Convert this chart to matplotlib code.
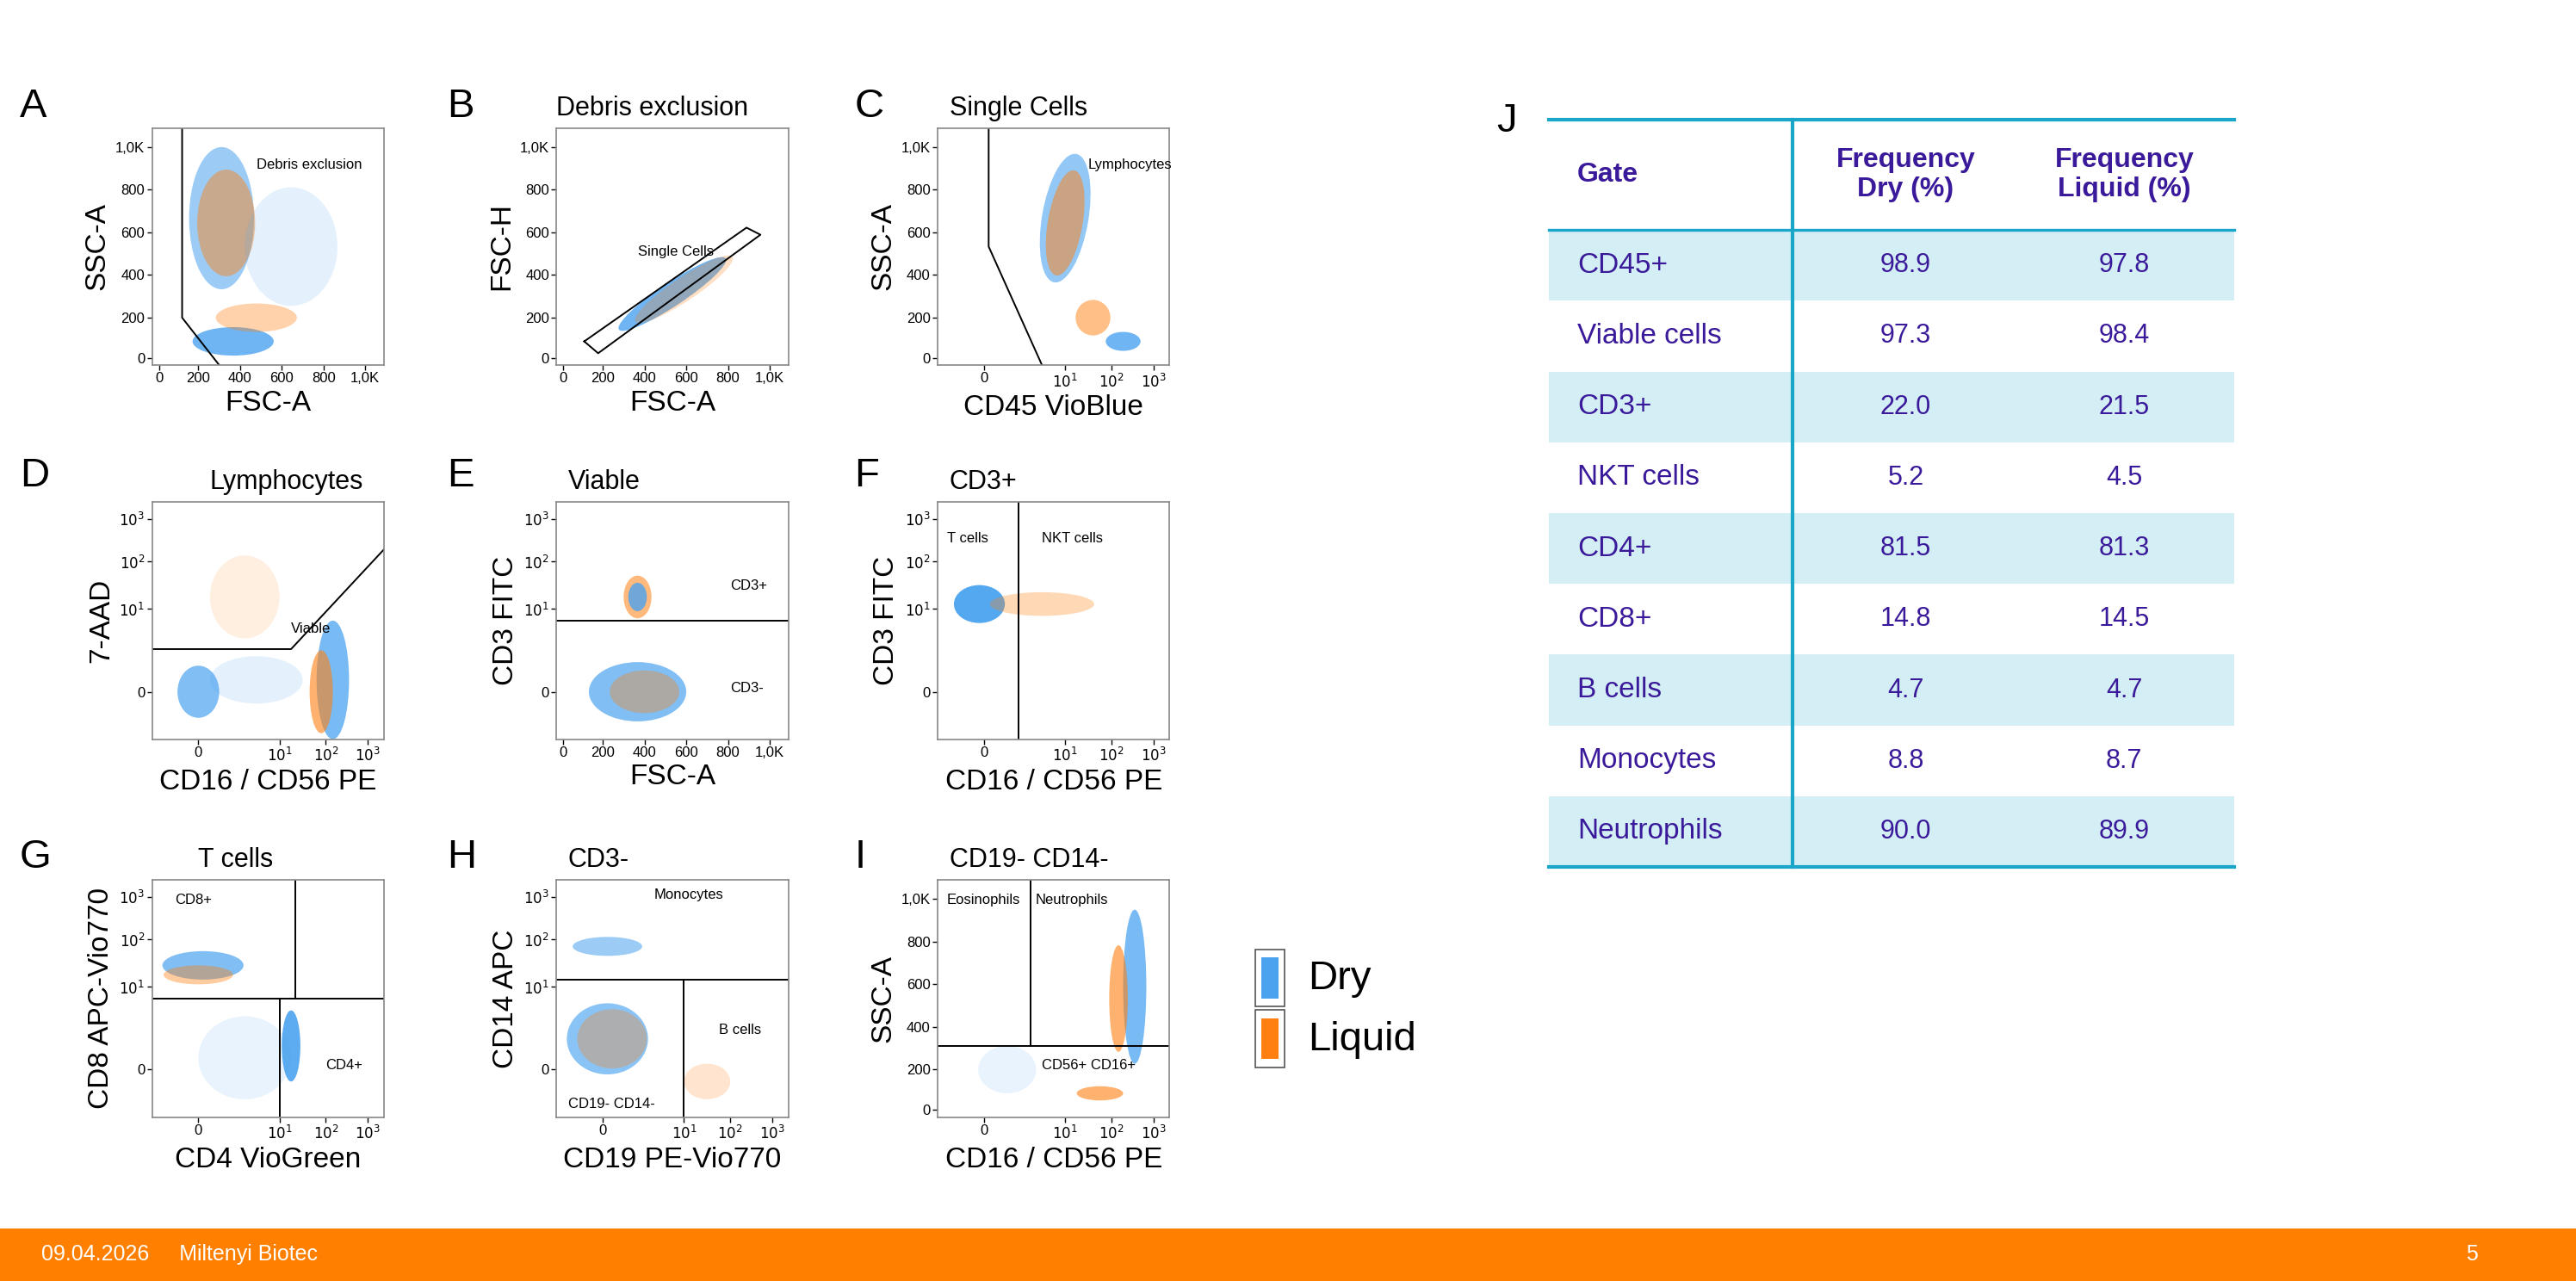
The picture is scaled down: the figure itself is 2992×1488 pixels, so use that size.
import matplotlib
matplotlib.use("Agg")
import matplotlib.pyplot as plt
from matplotlib.patches import Ellipse, Rectangle

plt.rcParams['font.family'] = ['Liberation Sans', 'DejaVu Sans']

DRY = '#4ba3f0'
LIQ = '#ff8010'
TXT = '#3a1a9a'

# table data
gates = ['CD45+', 'Viable cells', 'CD3+', 'NKT cells', 'CD4+', 'CD8+', 'B cells', 'Monocytes', 'Neutrophils']
freq_dry = ['98.9', '97.3', '22.0', '5.2', '81.5', '14.8', '4.7', '8.8', '90.0']
freq_liquid = ['97.8', '98.4', '21.5', '4.5', '81.3', '14.5', '4.7', '8.7', '89.9']

# axis types: 'lin' = 0..1K, 'log' = biexponential 0, 10^1..10^3 (coords 0..1)
lin_ticks = [0.03, 0.2, 0.38, 0.56, 0.74, 0.92]
lin_labels = ['0', '200', '400', '600', '800', '1,0K']
log_ticks = [0.2, 0.55, 0.75, 0.93]
log_labels = ['0', '$10^1$', '$10^2$', '$10^3$']

# panels: letter, title, xlabel, ylabel, xaxis, yaxis
panels = [
    ('A', '', 'FSC-A', 'SSC-A', 'lin', 'lin'),
    ('B', 'Debris exclusion', 'FSC-A', 'FSC-H', 'lin', 'lin'),
    ('C', 'Single Cells', 'CD45 VioBlue', 'SSC-A', 'log', 'lin'),
    ('D', 'Lymphocytes', 'CD16 / CD56 PE', '7-AAD', 'log', 'log'),
    ('E', 'Viable', 'FSC-A', 'CD3 FITC', 'lin', 'log'),
    ('F', 'CD3+', 'CD16 / CD56 PE', 'CD3 FITC', 'log', 'log'),
    ('G', 'T cells', 'CD4 VioGreen', 'CD8 APC-Vio770', 'log', 'log'),
    ('H', 'CD3-', 'CD19 PE-Vio770', 'CD14 APC', 'log', 'log'),
    ('I', 'CD19- CD14-', 'CD16 / CD56 PE', 'SSC-A', 'log', 'lin'),
]
title_x = [0.0, 0.0, 0.05, 0.25, 0.05, 0.05, 0.2, 0.05, 0.05]

# clusters per panel: (x, y, width, height, angle, color, alpha)
clusters = {
    'A': [(0.3, 0.62, 0.28, 0.6, 0, DRY, 0.55), (0.32, 0.6, 0.25, 0.45, 0, LIQ, 0.45),
          (0.35, 0.1, 0.35, 0.12, 0, DRY, 0.8), (0.45, 0.2, 0.35, 0.12, 0, LIQ, 0.35),
          (0.6, 0.5, 0.4, 0.5, 0, DRY, 0.15)],
    'B': [(0.5, 0.3, 0.55, 0.1, 33, DRY, 0.8), (0.55, 0.32, 0.5, 0.1, 33, LIQ, 0.25)],
    'C': [(0.55, 0.62, 0.2, 0.55, -10, DRY, 0.6), (0.55, 0.6, 0.15, 0.45, -10, LIQ, 0.5),
          (0.67, 0.2, 0.15, 0.15, 0, LIQ, 0.5), (0.8, 0.1, 0.15, 0.08, 0, DRY, 0.8)],
    'D': [(0.2, 0.2, 0.18, 0.22, 0, DRY, 0.7), (0.78, 0.25, 0.14, 0.5, 0, DRY, 0.75),
          (0.73, 0.2, 0.1, 0.35, 0, LIQ, 0.6), (0.45, 0.25, 0.4, 0.2, 0, DRY, 0.15),
          (0.4, 0.6, 0.3, 0.35, 0, LIQ, 0.12)],
    'E': [(0.35, 0.6, 0.12, 0.18, 0, LIQ, 0.55), (0.35, 0.6, 0.08, 0.12, 0, DRY, 0.8),
          (0.35, 0.2, 0.42, 0.25, 0, DRY, 0.7), (0.38, 0.2, 0.3, 0.18, 0, LIQ, 0.35)],
    'F': [(0.18, 0.57, 0.22, 0.16, 0, DRY, 0.95), (0.45, 0.57, 0.45, 0.1, 0, LIQ, 0.3)],
    'G': [(0.22, 0.64, 0.35, 0.12, 0, DRY, 0.7), (0.2, 0.6, 0.3, 0.08, 0, LIQ, 0.4),
          (0.6, 0.3, 0.08, 0.3, 0, DRY, 0.9), (0.4, 0.25, 0.4, 0.35, 0, DRY, 0.12)],
    'H': [(0.22, 0.72, 0.3, 0.08, 0, DRY, 0.55), (0.22, 0.33, 0.35, 0.3, 0, DRY, 0.65),
          (0.24, 0.33, 0.3, 0.25, 0, LIQ, 0.3), (0.65, 0.15, 0.2, 0.15, 0, LIQ, 0.2)],
    'I': [(0.85, 0.55, 0.1, 0.65, 0, DRY, 0.75), (0.78, 0.5, 0.08, 0.45, 0, LIQ, 0.6),
          (0.7, 0.1, 0.2, 0.06, 0, LIQ, 0.6), (0.3, 0.2, 0.25, 0.2, 0, DRY, 0.12)],
}

# gate lines per panel: list of (xs, ys)
gate_lines = {
    'A': [([0.13, 0.13, 0.29], [1.0, 0.2, 0.0])],
    'B': [([0.12, 0.82, 0.88, 0.18, 0.12], [0.1, 0.58, 0.55, 0.05, 0.1])],
    'C': [([0.22, 0.22, 0.45], [1.0, 0.5, 0.0])],
    'D': [([0.0, 0.6, 1.0], [0.38, 0.38, 0.8])],
    'E': [([0.0, 1.0], [0.5, 0.5])],
    'F': [([0.35, 0.35], [0.0, 1.0])],
    'G': [([0.55, 0.55], [0.0, 0.5]), ([0.0, 1.0], [0.5, 0.5]), ([0.62, 0.62], [0.5, 1.0])],
    'H': [([0.0, 1.0], [0.58, 0.58]), ([0.55, 0.55], [0.0, 0.58])],
    'I': [([0.0, 1.0], [0.3, 0.3]), ([0.4, 0.4], [0.3, 1.0])],
}
gate_texts = {
    'A': [(0.45, 0.83, 'Debris exclusion')],
    'B': [(0.35, 0.46, 'Single Cells')],
    'C': [(0.65, 0.83, 'Lymphocytes')],
    'D': [(0.6, 0.45, 'Viable')],
    'E': [(0.75, 0.63, 'CD3+'), (0.75, 0.2, 'CD3-')],
    'F': [(0.04, 0.83, 'T cells'), (0.45, 0.83, 'NKT cells')],
    'G': [(0.1, 0.9, 'CD8+'), (0.75, 0.2, 'CD4+')],
    'H': [(0.42, 0.92, 'Monocytes'), (0.7, 0.35, 'B cells'), (0.05, 0.04, 'CD19- CD14-')],
    'I': [(0.04, 0.9, 'Eosinophils'), (0.42, 0.9, 'Neutrophils'), (0.45, 0.2, 'CD56+ CD16+')],
}

fig = plt.figure(figsize=(14.96, 7.44), dpi=200)

lefts = [0.059, 0.216, 0.364]
bottoms = [0.715, 0.423, 0.128]
letter_x = [12 / 1568, 272 / 1568, 520 / 1568]
letter_y = [1 - 65 / 780, 1 - 290 / 780, 1 - 522 / 780]
W, H = 0.09, 0.185

for i, (letter, title, xl, yl, xa, ya) in enumerate(panels):
    r, c = divmod(i, 3)
    ax = fig.add_axes([lefts[c], bottoms[r], W, H])
    ax.set_xlim(0, 1)
    ax.set_ylim(0, 1)
    for (x, y, w, h, ang, col, a) in clusters[letter]:
        ax.add_patch(Ellipse((x, y), w, h, angle=ang, color=col, alpha=a, lw=0))
    for xs, ys in gate_lines[letter]:
        ax.plot(xs, ys, color='black', lw=0.7)
    for x, y, t in gate_texts[letter]:
        ax.text(x, y, t, fontsize=6, transform=ax.transAxes)
    if xa == 'lin':
        ax.set_xticks(lin_ticks, lin_labels)
    else:
        ax.set_xticks(log_ticks, log_labels)
    if ya == 'lin':
        ax.set_yticks(lin_ticks, lin_labels)
    else:
        ax.set_yticks(log_ticks, log_labels)
    ax.tick_params(labelsize=6, length=2, width=0.5, pad=1)
    for s in ax.spines.values():
        s.set_color('#888888')
        s.set_linewidth(0.6)
    ax.set_xlabel(xl, fontsize=12, labelpad=2)
    ax.set_ylabel(yl, fontsize=12, labelpad=2)
    ax.text(title_x[i], 1.03, title, fontsize=11, transform=ax.transAxes, va='bottom')
    fig.text(letter_x[c], letter_y[r], letter, fontsize=17, va='center')

# table J
fig.text(0.581, 0.905, 'J', fontsize=17, va='center')
tx0, tx1 = 943 / 1568, 1360 / 1568
ty_top = 1 - 73 / 780
hdr_h = 67 / 780
row_h = 43.1 / 780
col_split = 1091 / 1568
cyan = '#1aa6c8'
fig.add_artist(plt.Line2D([tx0, tx1], [ty_top, ty_top], color=cyan, lw=1.5))
fig.text(960 / 1568, ty_top - hdr_h / 2, 'Gate', fontsize=11.5, fontweight='bold', color=TXT, va='center')
fig.text(1160 / 1568, ty_top - hdr_h / 2, 'Frequency\nDry (%)', fontsize=11.5, fontweight='bold',
         color=TXT, va='center', ha='center')
fig.text(1293 / 1568, ty_top - hdr_h / 2, 'Frequency\nLiquid (%)', fontsize=11.5, fontweight='bold',
         color=TXT, va='center', ha='center')
for k, (g, d, l) in enumerate(zip(gates, freq_dry, freq_liquid)):
    y1 = ty_top - hdr_h - k * row_h
    if k % 2 == 0:
        fig.add_artist(Rectangle((tx0, y1 - row_h), tx1 - tx0, row_h, color='#d3eef4', lw=0))
    yc = y1 - row_h / 2
    fig.text(960 / 1568, yc, g, fontsize=12, color=TXT, va='center')
    fig.text(1160 / 1568, yc, d, fontsize=11, color=TXT, va='center', ha='center')
    fig.text(1293 / 1568, yc, l, fontsize=11, color=TXT, va='center', ha='center')
ty_bot = ty_top - hdr_h - len(gates) * row_h
fig.add_artist(plt.Line2D([tx0, tx1], [ty_top - hdr_h, ty_top - hdr_h], color=cyan, lw=1.2))
fig.add_artist(plt.Line2D([tx0, tx1], [ty_bot, ty_bot], color=cyan, lw=1.5))
fig.add_artist(plt.Line2D([col_split, col_split], [ty_top, ty_bot], color=cyan, lw=1.5))

# legend
for k, (lab, col) in enumerate([('Dry', DRY), ('Liquid', LIQ)]):
    yb = 1 - (613 + k * 37) / 780
    fig.add_artist(Rectangle((764 / 1568, yb), 18 / 1568, 35 / 780, facecolor='white',
                             edgecolor='#555555', lw=0.6))
    fig.add_artist(Rectangle((768 / 1568, yb + 5 / 780), 10 / 1568, 25 / 780, color=col, lw=0))
    fig.text(796 / 1568, yb + 17 / 780, lab, fontsize=17, va='center')

# footer
fig.add_artist(Rectangle((0, 0), 1, 32 / 780, color='#ff7f00', lw=0))
fig.text(25 / 1568, 16 / 780, '09.04.2026     Miltenyi Biotec', fontsize=9, color='white', va='center')
fig.text(1508 / 1568, 16 / 780, '5', fontsize=9, color='white', va='center', ha='right')

fig.savefig('out.png', dpi=200)
